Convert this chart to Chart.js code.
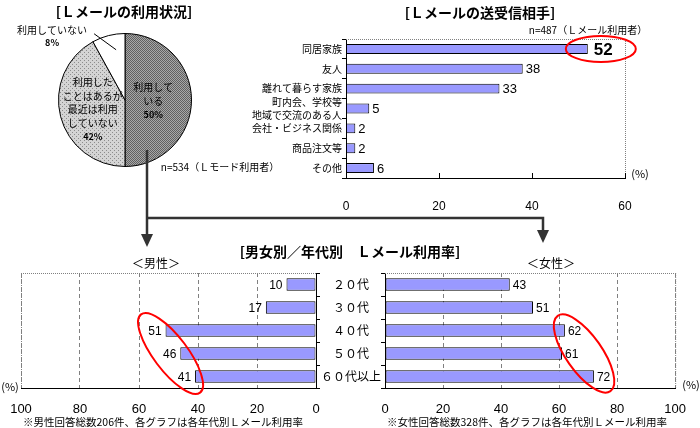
<!DOCTYPE html>
<html><head><meta charset="utf-8">
<script src="https://cdn.jsdelivr.net/npm/chart.js@4"></script>
<style>
html,body{margin:0;padding:0;background:#fff;}
#wrap{position:relative;width:700px;height:428px;overflow:hidden;font-family:"Noto Sans CJK JP",sans-serif;color:#000;background:#fff;}
canvas{position:absolute;}
.t{position:absolute;white-space:nowrap;line-height:1;transform:translate(-50%,-50%);}
.b{font-weight:bold;font-size:14px;}
svg{position:absolute;left:0;top:0;pointer-events:none;}
</style></head><body>
<div id="wrap">
<canvas id="pie" style="left:0;top:0;width:250px;height:190px" width="250" height="190"></canvas>
<canvas id="partner" style="left:240px;top:0;width:460px;height:215px" width="460" height="215"></canvas>
<canvas id="male" style="left:0;top:255px;width:330px;height:173px" width="330" height="173"></canvas>
<canvas id="female" style="left:320px;top:255px;width:380px;height:173px" width="380" height="173"></canvas>
<svg width="700" height="428">
  <polyline points="147,150 147,236" fill="none" stroke="#333" stroke-width="2.5"/>
  <polyline points="147,218 543,218 543,232" fill="none" stroke="#333" stroke-width="2.5"/>
  <polygon points="141,234 153,234 147,247" fill="#333"/>
  <polygon points="537,230 549,230 543,243" fill="#333"/>
</svg>
<div class="t b" style="left:124px;top:11px">[Ｌメールの利用状況]</div>
<div class="t b" style="left:480px;top:12px">[Ｌメールの送受信相手]</div>
<div class="t" style="left:588px;top:30px;font-size:10px">n=487（Ｌメール利用者）</div>
<div class="t" style="left:220px;top:167px;font-size:10px">n=534（Ｌモード利用者）</div>
<div class="t" style="left:640px;top:173px;font-size:11px">(%)</div>
<div class="t b" style="left:350px;top:251px">[男女別／年代別　Ｌメール利用率]</div>
<div class="t" style="left:156px;top:263px;font-size:12px">＜男性＞</div>
<div class="t" style="left:551px;top:263px;font-size:12px">＜女性＞</div>
<div class="t" style="left:10px;top:386px;font-size:11px">(%)</div>
<div class="t" style="left:691px;top:384px;font-size:11px">(%)</div>
<div class="t" style="left:163px;top:422px;font-size:10.5px">※男性回答総数206件、各グラフは各年代別Ｌメール利用率</div>
<div class="t" style="left:527px;top:422px;font-size:10.5px">※女性回答総数328件、各グラフは各年代別Ｌメール利用率</div>
</div>
<script>
// ---- data ----
const pieLabels = ['利用している', '利用したことはあるが最近は利用していない', '利用していない'];
const pieLines = [['利用して', 'いる'], ['利用した', 'ことはあるが', '最近は利用', 'していない'], ['利用していない']];
const pieValues = [50, 42, 8];

const partnerLabels = ['同居家族', '友人', '離れて暮らす家族', ['町内会、学校等', '地域で交流のある人'], '会社・ビジネス関係', '商品注文等', 'その他'];
const partnerValues = [52, 38, 33, 5, 2, 2, 6];
const partnerTicks = [0, 20, 40, 60];

const ageLabels = ['２０代', '３０代', '４０代', '５０代', '６０代以上'];
const maleValues = [10, 17, 51, 46, 41];
const femaleValues = [43, 51, 62, 61, 72];
const rateTicks = [0, 20, 40, 60, 80, 100];

// ---- helpers ----
const JP = '"Noto Sans CJK JP", sans-serif';
const NUM = '"Liberation Sans", "Noto Sans CJK JP", sans-serif';
const BAR = '#9999ff';

function makePattern(w, h, draw) {
  const c = document.createElement('canvas'); c.width = w; c.height = h;
  const x = c.getContext('2d'); draw(x);
  return document.createElement('canvas').getContext('2d').createPattern(c, 'repeat');
}
const darkPat = makePattern(2, 2, x => {
  x.fillStyle = '#a8a8a8'; x.fillRect(0, 0, 2, 2);
  x.fillStyle = '#606060'; x.fillRect(0, 0, 1, 1); x.fillRect(1, 1, 1, 1);
});
const lightPat = makePattern(4, 4, x => {
  x.fillStyle = '#d4d4d4'; x.fillRect(0, 0, 4, 4);
  x.fillStyle = '#8c8c8c'; x.fillRect(0, 0, 1, 1); x.fillRect(2, 2, 1, 1);
});

const pieLabelPlugin = {
  id: 'pieLabels',
  afterDatasetsDraw(chart) {
    const ctx = chart.ctx;
    const meta = chart.getDatasetMeta(0);
    ctx.save();
    ctx.fillStyle = '#000'; ctx.textAlign = 'center'; ctx.textBaseline = 'middle';
    meta.data.forEach((arc, i) => {
      const pct = pieValues[i] + '%';
      if (i < 2) {
        const p = arc.tooltipPosition();
        const all = pieLines[i].concat([pct]);
        const lh = 13.5;
        const y0 = p.y - (all.length - 1) * lh / 2 + 1;
        const dx = i === 0 ? -5 : 0;
        all.forEach((t, k) => {
          ctx.font = (k === all.length - 1 ? 'bold 9px ' : '10px ') + JP;
          ctx.fillText(t, p.x + dx, y0 + k * lh);
        });
      } else {
        const mid = (arc.startAngle + arc.endAngle) / 2;
        const r = arc.outerRadius * 0.78;
        const ix = arc.x + Math.cos(mid) * r + 4, iy = arc.y + Math.sin(mid) * r;
        const ox = ix - 22, oy = iy - 16;
        ctx.strokeStyle = '#000'; ctx.lineWidth = 1;
        ctx.beginPath(); ctx.moveTo(ox, oy); ctx.lineTo(ix, iy); ctx.stroke();
        ctx.font = '10px ' + JP;
        ctx.fillText(pieLines[i][0], ox - 42, oy - 4);
        ctx.font = 'bold 9px ' + JP;
        ctx.fillText(pct, ox - 42, oy + 9);
      }
    });
    ctx.restore();
  }
};

const valueLabels = {
  id: 'valueLabels',
  afterDatasetsDraw(chart, args, opts) {
    const ctx = chart.ctx;
    const meta = chart.getDatasetMeta(0);
    const data = chart.data.datasets[0].data;
    const rev = chart.scales.x.options.reverse;
    ctx.save();
    ctx.fillStyle = '#000'; ctx.textBaseline = 'middle';
    meta.data.forEach((bar, i) => {
      const bold = opts.highlight === i;
      ctx.font = (bold ? 'bold 17px ' : (opts.size || 12) + 'px ') + NUM;
      if (rev) { ctx.textAlign = 'right'; ctx.fillText(String(data[i]), bar.x - 4, bar.y + 1); }
      else { ctx.textAlign = 'left'; ctx.fillText(String(data[i]), bar.x + (bold ? 6 : 3), bar.y + 1); }
    });
    ctx.restore();
  }
};

const framePlugin = {
  id: 'frame',
  afterDraw(chart, args, opts) {
    const { left, right, top, bottom } = chart.chartArea;
    const ctx = chart.ctx;
    ctx.save();
    ctx.strokeStyle = '#808080'; ctx.lineWidth = 1; ctx.setLineDash([1, 1]);
    (opts.sides || []).forEach(s => {
      ctx.beginPath();
      if (s === 'top') { ctx.moveTo(left, top + 0.5); ctx.lineTo(right, top + 0.5); }
      if (s === 'right') { ctx.moveTo(right + 0.5, top); ctx.lineTo(right + 0.5, bottom); }
      if (s === 'left') { ctx.moveTo(left + 0.5, top); ctx.lineTo(left + 0.5, bottom); }
      ctx.stroke();
    });
    ctx.setLineDash([]);
    if (opts.innerTicks) {
      ctx.strokeStyle = '#000';
      const xs = chart.scales.x;
      xs.ticks.forEach(t => {
        const px = Math.round(xs.getPixelForValue(t.value)) + 0.5;
        ctx.beginPath(); ctx.moveTo(px, bottom); ctx.lineTo(px, bottom - 5); ctx.stroke();
      });
    }
    ctx.restore();
  }
};

const ellipsePlugin = {
  id: 'ellipse',
  afterDraw(chart, args, opts) {
    if (!opts.value) return;
    const ctx = chart.ctx;
    const cx = chart.scales.x.getPixelForValue(opts.value);
    const cy = chart.scales.y.getPixelForValue(opts.index);
    ctx.save();
    ctx.strokeStyle = '#ff0000'; ctx.lineWidth = 2;
    ctx.beginPath();
    ctx.ellipse(cx, cy, opts.rx, opts.ry, opts.angle * Math.PI / 180, 0, Math.PI * 2);
    ctx.stroke();
    ctx.restore();
  }
};

Chart.defaults.animation = false;
Chart.defaults.responsive = false;
Chart.defaults.plugins.legend.display = false;
Chart.defaults.plugins.tooltip.enabled = false;
Chart.defaults.color = '#000';

// ---- pie ----
new Chart(document.getElementById('pie'), {
  type: 'pie',
  data: { labels: pieLabels, datasets: [{ data: pieValues, backgroundColor: [darkPat, lightPat, '#ffffff'], borderColor: '#000', borderWidth: 1 }] },
  options: { layout: { padding: { left: 58, right: 58, top: 33, bottom: 23 } } },
  plugins: [pieLabelPlugin]
});

// ---- partner bar ----
new Chart(document.getElementById('partner'), {
  type: 'bar',
  data: { labels: partnerLabels, datasets: [{ data: partnerValues, backgroundColor: BAR, borderColor: '#000', borderWidth: 1, borderSkipped: false, categoryPercentage: 1, barPercentage: 0.5 }] },
  options: {
    indexAxis: 'y',
    layout: { padding: { left: 0, right: 75, top: 39, bottom: 0 } },
    scales: {
      x: {
        min: partnerTicks[0], max: partnerTicks[partnerTicks.length - 1],
        afterBuildTicks: s => { s.ticks = partnerTicks.map(v => ({ value: v })); },
        afterFit: s => { s.height = 37; },
        grid: { display: false },
        border: { display: true, color: '#000', width: 1 },
        ticks: { padding: 13, font: { family: NUM, size: 12 }, color: '#000' }
      },
      y: {
        afterFit: s => { s.width = 106; },
        grid: { display: true, drawOnChartArea: false, drawTicks: true, tickLength: 4, color: '#000', offset: true },
        border: { display: true, color: '#000', width: 1 },
        ticks: { padding: 0, font: { family: JP, size: 10, lineHeight: 1.3 }, color: '#000', autoSkip: false }
      }
    },
    plugins: {
      valueLabels: { highlight: 0, size: 13 },
      frame: { sides: ['top', 'right'], innerTicks: true },
      ellipse: { value: 54.8, index: 0, rx: 35, ry: 13, angle: 0 }
    }
  },
  plugins: [valueLabels, framePlugin, ellipsePlugin]
});

// ---- male ----
function ageChart(id, values, opts) {
  return new Chart(document.getElementById(id), {
    type: 'bar',
    data: { labels: ageLabels, datasets: [{ data: values, backgroundColor: BAR, borderColor: '#000', borderWidth: 1, borderSkipped: false, categoryPercentage: 1, barPercentage: 0.54 }] },
    options: {
      indexAxis: 'y',
      layout: { padding: opts.padding },
      scales: {
        x: {
          reverse: opts.reverse, min: rateTicks[0], max: rateTicks[rateTicks.length - 1],
          afterBuildTicks: s => { s.ticks = rateTicks.map(v => ({ value: v })); },
          afterFit: s => { s.height = 40; },
          grid: { display: true, drawTicks: false, color: '#808080', lineWidth: 1 },
          border: { display: true, color: '#000', width: 1, dash: [4, 3] },
          ticks: { padding: 14, font: { family: NUM, size: 13 }, color: '#000' }
        },
        y: {
          position: opts.yPos,
          afterFit: s => { s.width = opts.yWidth; },
          grid: { display: true, drawOnChartArea: false, drawTicks: true, tickLength: 4, color: '#000', offset: true },
          border: { display: true, color: '#000', width: 1 },
          ticks: { display: opts.showLabels, padding: 0, crossAlign: 'center', font: { family: JP, size: 12 }, color: '#000', autoSkip: false }
        }
      },
      plugins: {
        valueLabels: { size: 12 },
        frame: { sides: opts.frame },
        ellipse: opts.ellipse
      }
    },
    plugins: [valueLabels, framePlugin, ellipsePlugin]
  });
}

ageChart('male', maleValues, {
  reverse: true, yPos: 'right', yWidth: 14, showLabels: false,
  padding: { left: 21, right: 0, top: 18, bottom: 0 },
  frame: ['top', 'left'],
  ellipse: { value: 49.3, index: 3, rx: 49, ry: 17, angle: 53 }
});
ageChart('female', femaleValues, {
  reverse: false, yPos: 'left', yWidth: 65, showLabels: true,
  padding: { left: 0, right: 20, top: 18, bottom: 0 },
  frame: ['top', 'right'],
  ellipse: { value: 68.6, index: 3, rx: 46, ry: 18, angle: 55 }
});
</script>
</body></html>
